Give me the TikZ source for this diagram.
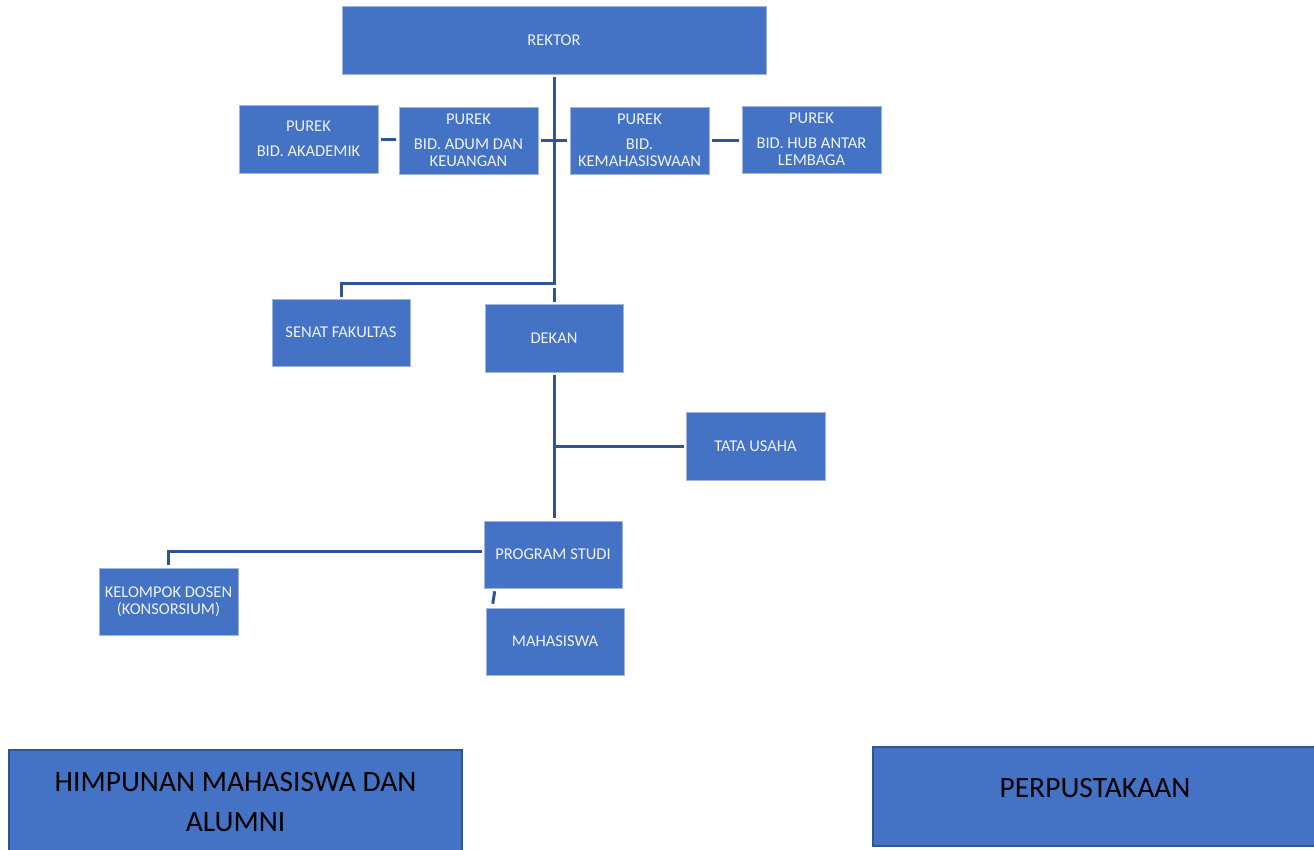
\documentclass[tikz,border=0pt]{standalone}
\usepackage{fontspec}
\setmainfont{Carlito}
\usetikzlibrary{calc}
\definecolor{boxblue}{HTML}{4472C4}
\definecolor{edgelight}{HTML}{9DB5E0}
\definecolor{linecol}{HTML}{2F5597}
\definecolor{txt}{HTML}{EEF2FA}
\tikzset{
  orgbox/.style={draw=edgelight, line width=0.6pt, fill=boxblue, text=txt,
    font=\fontsize{16.5}{17}\selectfont, align=center, inner sep=0pt},
  bigbox/.style={draw=linecol, line width=1.6pt, fill=boxblue, text=black,
    font=\fontsize{29.5}{40}\selectfont, align=center, inner sep=0pt},
  conn/.style={draw=linecol, line width=3pt}
}
\begin{document}
\begin{tikzpicture}[x=1pt,y=-1pt]
\useasboundingbox (0,0) rectangle (1314,849);
\node[orgbox, minimum width=424pt, minimum height=68pt] (rektor) at (554,40) {REKTOR};
\node[orgbox, minimum width=139pt, minimum height=68pt] (aka) at (308.5,139) {PUREK\\[8pt]BID. AKADEMIK};
\node[orgbox, minimum width=139pt, minimum height=67pt] (adum) at (468.5,140.5) {PUREK\\[8pt]BID. ADUM DAN\\KEUANGAN};
\node[orgbox, minimum width=139pt, minimum height=67pt] (kema) at (639.5,140.5) {PUREK\\[8pt]BID.\\KEMAHASISWAAN};
\node[orgbox, minimum width=139pt, minimum height=67pt] (hub) at (811.5,139.5) {PUREK\\[8pt]BID. HUB ANTAR\\LEMBAGA};
\node[orgbox, minimum width=138pt, minimum height=67pt] (senat) at (341,332.5) {SENAT FAKULTAS};
\node[orgbox, minimum width=138pt, minimum height=68pt] (dekan) at (554,338) {DEKAN};
\node[orgbox, minimum width=139pt, minimum height=68pt] (tata) at (755.5,446) {TATA USAHA};
\node[orgbox, minimum width=138pt, minimum height=67pt] (prodi) at (553,554.5) {PROGRAM STUDI};
\node[orgbox, minimum width=139pt, minimum height=67pt] (kelompok) at (168.5,601.5) {KELOMPOK DOSEN\\(KONSORSIUM)};
\node[orgbox, minimum width=138pt, minimum height=67pt] (mhs) at (555,641.5) {MAHASISWA};
\node[bigbox, minimum width=453pt, minimum height=104pt] (hima) at (235.5,802) {HIMPUNAN MAHASISWA DAN\\ALUMNI};
\node[bigbox, minimum width=444pt, minimum height=99pt] (perpus) at (1095,796.5) {\raisebox{18pt}{PERPUSTAKAAN}};
\coordinate (j1) at (554,283);
\draw[conn] ([yshift=-3pt]rektor.south) -- (j1) -| ([yshift=2pt]senat.north);
\draw[conn] ([yshift=2pt]dekan.north) -- ++(0,-14);
\draw[conn] ([yshift=-3pt]dekan.south) -- ([yshift=3pt]dekan.south |- prodi.north);
\draw[conn] (dekan.south |- tata.west) -- ([xshift=-2pt]tata.west);
\draw[conn] ([shift={(-2pt,3.5pt)}]prodi.west) -| ([yshift=3pt]kelompok.north);
\draw[conn] ($(prodi.south west)+(11,3)$) -- ($(mhs.north west)+(7,-4)$);
\draw[conn] ([xshift=3pt]aka.east) -- ([xshift=-3pt]adum.west |- aka.east);
\draw[conn] ([xshift=3pt]adum.east) -- ([xshift=-3pt]kema.west);
\draw[conn] ([xshift=3pt]kema.east) -- ([xshift=-3pt]hub.west |- kema.east);
\end{tikzpicture}
\end{document}
